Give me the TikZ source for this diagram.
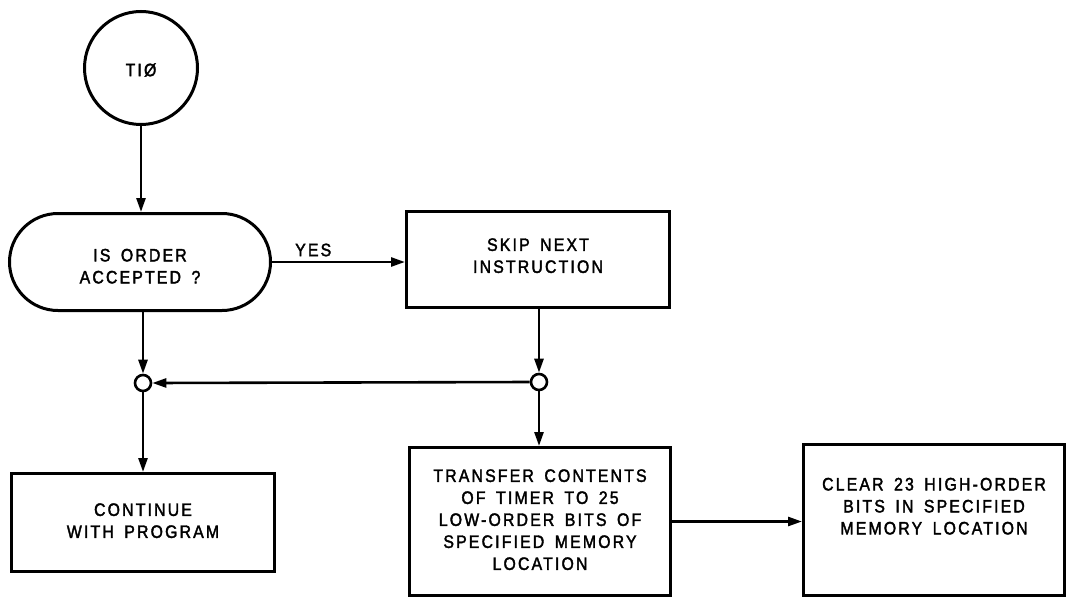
\documentclass[tikz,border=0pt]{standalone}
\usepackage{fontspec}
\setmainfont{Liberation Sans}[FakeStretch=0.88, LetterSpace=12, FakeBold=2, WordSpace=1.6]
\usetikzlibrary{shapes.misc,arrows.meta}
\newcommand\stk[1]{\begin{tabular}{@{}c@{}}#1\end{tabular}}
\newcommand\shiftup[2]{\raisebox{#1}[\height][\depth]{#2}}
\begin{document}
\begin{tikzpicture}[x=1pt,y=-1pt,
  line width=3pt,
  lbl/.style={font=\fontsize{18}{22}\selectfont, align=center},
  boxnode/.style={draw, lbl, inner sep=0pt},
  arr/.style={line width=2.6pt, -{Triangle[length=14pt,width=9pt]}},
  junc/.style={draw, circle, line width=2.6pt, minimum size=16pt, inner sep=0pt, fill=white}]
\useasboundingbox (0,0) rectangle (1067,599);
\node[draw, circle, minimum size=113pt, lbl] (start) at (141,68) {\shiftup{-2pt}{TIØ}};
\node[boxnode, rounded rectangle, minimum width=261pt, minimum height=97pt] (q) at (140,262) {\shiftup{-6pt}{\stk{IS ORDER\\ACCEPTED ?}}};
\node[boxnode, minimum width=263pt, minimum height=96pt] (skip) at (538,259.5) {\shiftup{2pt}{\stk{SKIP NEXT\\INSTRUCTION}}};
\node[junc] (jr) at (539,382) {};
\node[junc] (jl) at (143,383) {};
\node[boxnode, minimum width=263pt, minimum height=98pt] (cont) at (143,522.5) {\stk{CONTINUE\\WITH PROGRAM}};
\node[boxnode, minimum width=261pt, minimum height=148pt] (xfer) at (540,521.5) {\stk{TRANSFER CONTENTS\\OF TIMER TO 25\\LOW-ORDER BITS OF\\SPECIFIED MEMORY\\LOCATION}};
\node[boxnode, minimum width=261pt, minimum height=151pt] (clr) at (934,520) {\shiftup{12pt}{\stk{CLEAR 23 HIGH-ORDER\\BITS IN SPECIFIED\\MEMORY LOCATION}}};
\draw[arr] (start.south) -- (q.north -| start.south);
\draw[arr] (q.east) -- node[lbl, above=1pt, pos=0.31] (yes) {YES} (q.east -| skip.west);
\draw[arr] (skip.south -| jr) -- (jr.north);
\draw[arr] (jr.west) -- (jl.east);
\draw[arr] (q.south -| jl) -- (jl.north);
\draw[arr] (jl.south) -- (cont.north -| jl);
\draw[arr] (jr.south) -- (xfer.north -| jr);
\draw[arr] (xfer.east) -- (clr.west |- xfer.east);
\end{tikzpicture}
\end{document}
